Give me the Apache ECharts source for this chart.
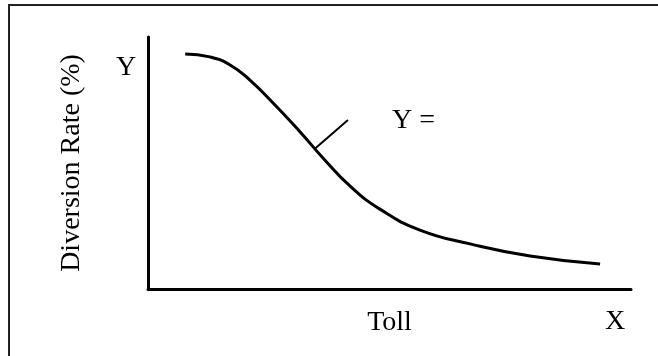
<!DOCTYPE html>
<html>
<head>
<meta charset="utf-8">
<script src="https://cdn.jsdelivr.net/npm/echarts@6/dist/echarts.min.js"></script>
<style>
  html, body { margin: 0; padding: 0; background: #fff; }
  #main { width: 658px; height: 356px; }
</style>
</head>
<body>
<div id="main"></div>
<script>
// toll (x) vs diversion rate (y), both in % of the axis length
var tollValues = [7.7, 12.8, 17.0, 21.1, 26.3, 31.5, 36.6, 41.8, 48.0, 56.3, 66.7, 79.1, 93.6];
var diversionValues = [93.3, 92.1, 88.9, 82.9, 73.0, 62.3, 51.2, 40.9, 31.7, 23.4, 17.9, 13.1, 9.9];
// short leader line from the curve to the "Y =" note
var leaderFrom = [34.6, 55.8];
var leaderTo = [41.4, 67.1];

var curveData = tollValues.map(function (x, i) {
  return [x, diversionValues[i]];
});

var font = "'Liberation Serif', 'Times New Roman', serif";
var chart = echarts.init(document.getElementById('main'));

chart.setOption({
  backgroundColor: '#ffffff',
  animation: false,
  grid: { left: 148, right: 27, top: 37, bottom: 67 },
  xAxis: {
    type: 'value',
    min: 0,
    max: 100,
    name: 'Toll',
    nameLocation: 'middle',
    nameGap: 20,
    nameTextStyle: { fontFamily: font, fontSize: 28, color: '#000' },
    axisLine: { lineStyle: { color: '#000', width: 3 } },
    axisTick: { show: false },
    axisLabel: { show: false },
    splitLine: { show: false }
  },
  yAxis: {
    type: 'value',
    min: 0,
    max: 100,
    name: 'Diversion Rate (%)',
    nameLocation: 'middle',
    nameGap: 62,
    nameTextStyle: { fontFamily: font, fontSize: 28, color: '#000' },
    axisLine: { show: true, lineStyle: { color: '#000', width: 3 } },
    axisTick: { show: false },
    axisLabel: { show: false },
    splitLine: { show: false }
  },
  graphic: [
    {
      type: 'rect',
      shape: { x: 9, y: 5, width: 700, height: 400 },
      style: { fill: 'none', stroke: '#222', lineWidth: 2 },
      silent: true
    },
    {
      type: 'text', left: 116, top: 54,
      style: { text: 'Y', fontFamily: font, fontSize: 28, fill: '#000' }
    },
    {
      type: 'text', left: 605, top: 308,
      style: { text: 'X', fontFamily: font, fontSize: 28, fill: '#000' }
    },
    {
      type: 'text', left: 392, top: 107,
      style: { text: 'Y =', fontFamily: font, fontSize: 28, fill: '#000' }
    }
  ],
  series: [{
    type: 'line',
    data: curveData,
    smooth: 0.5,
    symbol: 'none',
    lineStyle: { color: '#000', width: 3 },
    markLine: {
      silent: true,
      symbol: 'none',
      label: { show: false },
      lineStyle: { color: '#000', width: 2, type: 'solid' },
      data: [[{ coord: leaderFrom }, { coord: leaderTo }]]
    }
  }]
});
</script>
</body>
</html>
